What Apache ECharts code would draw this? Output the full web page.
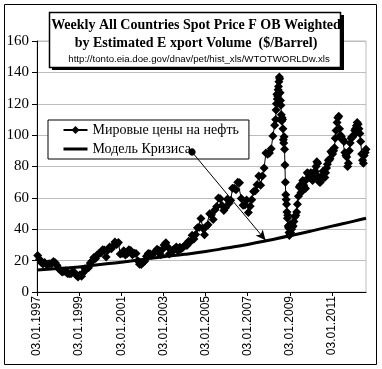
<!DOCTYPE html>
<html><head><meta charset="utf-8">
<script src="https://cdn.jsdelivr.net/npm/echarts@6/dist/echarts.min.js"></script>
<style>html,body{margin:0;padding:0;background:#fff}#c{width:382px;height:369px}</style>
</head><body><div id="c"></div>
<script>
// Mid-month price values (index = month), $/barrel
const years = [1997,1998,1999,2000,2001,2002,2003,2004,2005,2006,2007,2008,2009,2010,2011,2012];
const y1997 = [23.2, 20.8, 19.0, 17.8, 18.8, 17.5, 17.9, 18.0, 18.0, 19.5, 18.6, 17.0];
const y1998 = [14.9, 13.8, 12.7, 13.0, 13.6, 11.8, 11.7, 11.6, 12.9, 12.4, 10.7, 9.6];
const y1999 = [10.8, 10.1, 12.2, 14.8, 14.9, 15.5, 18.5, 19.8, 22.0, 21.4, 23.8, 24.6];
const y2000 = [24.8, 27.0, 26.7, 22.3, 26.6, 28.7, 27.5, 29.4, 31.8, 30.2, 31.5, 24.2];
const y2001 = [24.6, 26.3, 23.6, 24.5, 27.0, 26.4, 23.7, 24.7, 24.6, 19.9, 17.7, 17.6];
const y2002 = [18.8, 19.7, 22.8, 24.6, 24.4, 23.4, 24.7, 25.7, 27.2, 26.6, 23.7, 27.1];
const y2003 = [29.9, 31.4, 28.9, 24.3, 24.9, 26.6, 27.4, 28.7, 26.2, 28.5, 27.8, 28.7];
const y2004 = [29.9, 29.6, 32.3, 32.0, 36.1, 33.8, 36.7, 41.0, 41.3, 46.9, 40.6, 36.5];
const y2005 = [41.7, 42.9, 49.9, 49.3, 46.2, 52.5, 54.5, 60.0, 59.4, 55.1, 52.0, 53.7];
const y2006 = [59.1, 56.5, 58.5, 66.1, 66.2, 65.2, 69.9, 69.6, 59.6, 55.3, 55.4, 58.7];
const y2007 = [50.7, 54.7, 58.8, 64.1, 64.6, 68.3, 74.0, 68.0, 74.0, 79.1, 88.6, 87.8];
const y2008 = [88.6, 91.3, 99.5, 106.3, null, null, null, null, null, null, null, null];
const y2009 = [null, 41.5, 45.0, 49.0, 56.0, 67.0, 63.5, 71.0, 66.5, 71.5, 75.5, 73.0];
const y2010 = [74.5, 72.0, 77.0, 83.0, 73.5, 70.0, 73.5, 75.0, 76.0, 81.5, 84.0, 89.5];
const y2011 = [88, 92, 103, 111, 104, 99, 97, 89, 86, 82, 95, 99];
const y2012 = [100, 104, 108, 104, 96, 84, 87, 91];
const monthly = [y1997,y1998,y1999,y2000,y2001,y2002,y2003,y2004,y2005,y2006,y2007,y2008,y2009,y2010,y2011,y2012];

// Start-of-month values for the volatile 2009-2012 stretch (index = month)
const earlyYears = [2009, 2010, 2011, 2012];
const e2009 = [null, 40, 42, 48, 51, 61, 68, 67, 68, 66, 76, 75];
const e2010 = [76, 71, 76, 80, 82, 70, 72, 77, 73, 79, 84, 85];
const e2011 = [89, 90, 98, 108, 112, 100, 97, 96, 87, 80, 90, 98];
const e2012 = [99, 103, 106, 107, 101, 88, 82, 89];
const early = [e2009, e2010, e2011, e2012];

// Weekly values around the 2008 peak and crash
const crashDates = ['2008-05-02','2008-05-09','2008-05-16','2008-05-23','2008-05-30','2008-06-06','2008-06-13','2008-06-20','2008-06-27',
  '2008-07-04','2008-07-11','2008-07-18','2008-07-25','2008-08-01','2008-08-08','2008-08-15','2008-08-22','2008-08-29',
  '2008-09-05','2008-09-12','2008-09-19','2008-09-26','2008-10-03','2008-10-10','2008-10-17','2008-10-24','2008-10-31',
  '2008-11-07','2008-11-14','2008-11-21','2008-11-28','2008-12-05','2008-12-12','2008-12-19','2008-12-26',
  '2009-01-02','2009-01-09','2009-01-16','2009-01-23','2009-01-30'];
const crashPrices = [110,116,120,126,123,125,129,131,134,
  137,136,127,122,119,113,109,111,110,
  104,97,95,99,91,81,70,62,59,
  56,51,47,49,42,41,38,36,
  41,43,38,40,42];

// Crisis model line
const modelDates = ['1997-01-03','1998-01-03','1999-01-03','2000-01-03','2001-01-03','2002-01-03','2003-01-03','2004-01-03',
  '2005-01-03','2006-01-03','2007-01-03','2008-01-03','2009-01-03','2010-01-03','2011-01-03','2012-01-03','2012-08-15'];
const modelValues = [14, 15, 16, 17.5, 19, 20.8, 22.5, 24, 25.8, 28, 30.3, 33, 35.8, 38.8, 42, 45, 47];

const tickDates = ['1997-01-03','1999-01-03','2001-01-03','2003-01-03','2005-01-03','2007-01-03','2009-01-03','2011-01-03'];
const arrowTarget = ['2007-11-09', 33];

const ts = s => { const p = s.split('-').map(Number); return Date.UTC(p[0], p[1]-1, p[2]); };
const pad = n => (n < 10 ? '0' : '') + n;

let priceData = [];
years.forEach((y, i) => monthly[i].forEach((v, m) => { if (v != null) priceData.push([Date.UTC(y, m, 15), v]); }));
earlyYears.forEach((y, i) => early[i].forEach((v, m) => { if (v != null) priceData.push([Date.UTC(y, m, 1), v]); }));
crashDates.forEach((d, i) => priceData.push([ts(d), crashPrices[i]]));
priceData.sort((a, b) => a[0] - b[0]);
const modelData = modelDates.map((d, i) => [ts(d), modelValues[i]]);
const tickTs = tickDates.map(ts);

const chart = echarts.init(document.getElementById('c'));
chart.setOption({
  animation: false,
  backgroundColor: '#fff',
  grid: { left: 37, right: 16, top: 41, bottom: 77, show: true, borderColor: '#bdbdbd', borderWidth: 1 },
  xAxis: {
    type: 'value', min: ts('1997-01-03'), max: ts('2012-08-15'),
    axisLine: { lineStyle: { color: '#000', width: 1 } },
    axisTick: { customValues: tickTs, length: 4, lineStyle: { color: '#000' } },
    axisLabel: { customValues: tickTs, rotate: 90, margin: 4, color: '#000', fontFamily: 'Liberation Sans', fontSize: 12,
      formatter: v => { const d = new Date(v); return pad(d.getUTCDate()) + '.' + pad(d.getUTCMonth()+1) + '.' + d.getUTCFullYear(); } },
    splitLine: { show: false }
  },
  yAxis: {
    type: 'value', min: 0, max: 160, interval: 20,
    axisLine: { show: true, lineStyle: { color: '#000', width: 1 } },
    axisTick: { show: true, length: 5, lineStyle: { color: '#000' } },
    axisLabel: { margin: 8, color: '#000', fontFamily: 'Liberation Serif', fontSize: 15 },
    splitLine: { lineStyle: { color: '#bdbdbd', width: 1 } }
  },
  legend: {
    left: 48, top: 120, orient: 'vertical', itemGap: 5, itemWidth: 24, itemHeight: 10,
    padding: [3, 10, 3, 14], backgroundColor: '#fff', borderColor: '#000', borderWidth: 1, borderRadius: 0,
    textStyle: { fontFamily: 'Liberation Serif', fontSize: 14, color: '#000' },
    data: [
      { name: 'Мировые цены на нефть' },
      { name: 'Модель Кризиса', itemStyle: { opacity: 0 }, lineStyle: { width: 3, color: '#000' } }
    ]
  },
  series: [
    { name: 'Мировые цены на нефть', type: 'line', data: priceData, symbol: 'diamond', symbolSize: 9,
      itemStyle: { color: '#000' }, lineStyle: { color: '#000', width: 1 }, z: 2 },
    { name: 'Модель Кризиса', type: 'line', data: modelData, smooth: true, symbol: 'none',
      itemStyle: { color: '#000' }, lineStyle: { color: '#000', width: 3 }, z: 3,
      markLine: { silent: true, symbol: ['circle', 'arrow'], symbolSize: [7, 10], label: { show: false },
        lineStyle: { color: '#000', width: 1, type: 'solid' },
        data: [[{ x: 192, y: 152 }, { coord: [ts(arrowTarget[0]), arrowTarget[1]] }]] } }
  ],
  graphic: [
    { type: 'rect', shape: { x: 4.5, y: 4.5, width: 372, height: 360 }, style: { fill: null, stroke: '#000', lineWidth: 1 }, z: 100 },
    { type: 'rect', shape: { x: 52, y: 15, width: 292, height: 55 }, style: { fill: '#000' }, z: 100 },
    { type: 'rect', shape: { x: 49.5, y: 12.5, width: 291, height: 55 }, style: { fill: '#fff', stroke: '#000', lineWidth: 1.5 }, z: 101 },
    { type: 'text', x: 196, y: 25, z: 102, style: { text: 'Weekly All Countries Spot Price F OB Weighted', fill: '#000',
        font: 'bold 14px "Liberation Serif"', textAlign: 'center', textVerticalAlign: 'middle' } },
    { type: 'text', x: 196, y: 43, z: 102, style: { text: 'by Estimated E xport Volume  ($/Barrel)', fill: '#000',
        font: 'bold 14px "Liberation Serif"', textAlign: 'center', textVerticalAlign: 'middle' } },
    { type: 'text', x: 199, y: 59, z: 102, style: { text: 'http://tonto.eia.doe.gov/dnav/pet/hist_xls/WTOTWORLDw.xls', fill: '#000',
        font: '9.7px "Liberation Sans"', textAlign: 'center', textVerticalAlign: 'middle' } }
  ]
});
</script></body></html>
